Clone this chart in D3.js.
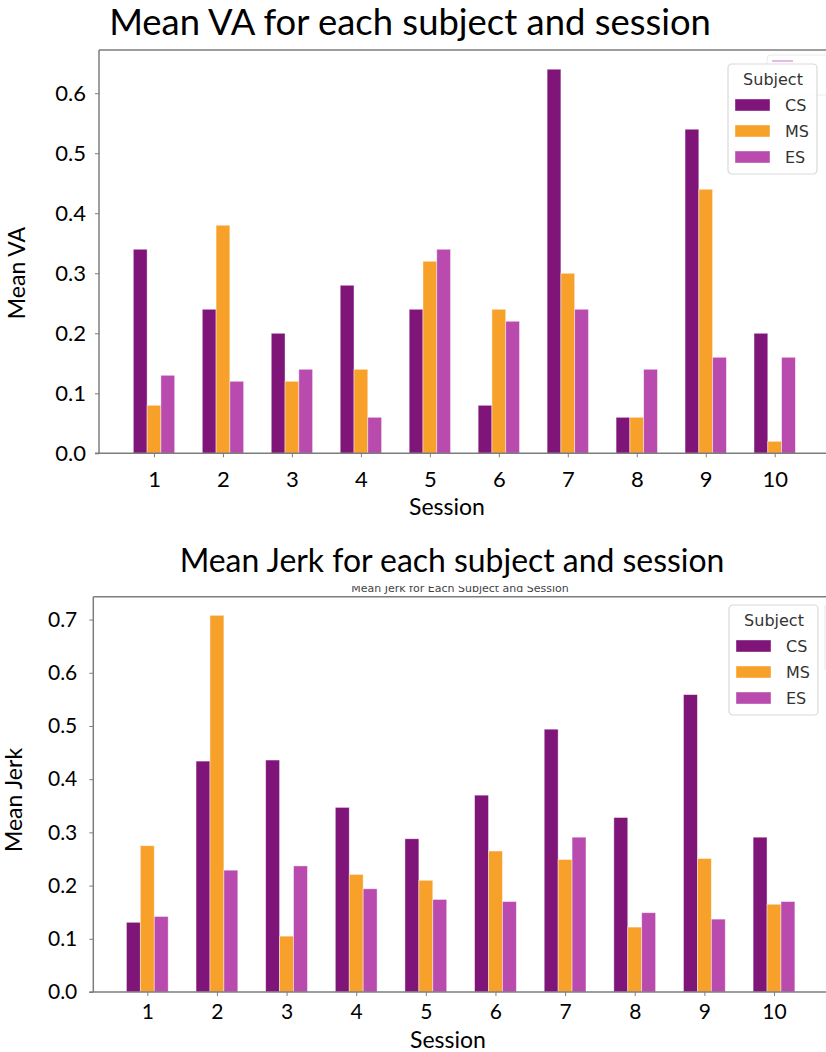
<!DOCTYPE html>
<html>
<head>
<meta charset="utf-8">
<script src="https://cdn.jsdelivr.net/npm/d3@7/dist/d3.min.js"></script>
<style>
  html, body { margin: 0; padding: 0; background: #fff; }
  svg { display: block; }
</style>
</head>
<body>
<svg id="chart" width="826" height="1052"></svg>
<script>
// ---------- DATA ----------
const sessions = ["1", "2", "3", "4", "5", "6", "7", "8", "9", "10"];
const subjects = ["CS", "MS", "ES"];

const vaCS = [0.34, 0.24, 0.20, 0.28, 0.24, 0.08, 0.64, 0.06, 0.54, 0.20];
const vaMS = [0.08, 0.38, 0.12, 0.14, 0.32, 0.24, 0.30, 0.06, 0.44, 0.02];
const vaES = [0.13, 0.12, 0.14, 0.06, 0.34, 0.22, 0.24, 0.14, 0.16, 0.16];

const jerkCS = [0.131, 0.434, 0.436, 0.347, 0.288, 0.370, 0.494, 0.328, 0.559, 0.291];
const jerkMS = [0.275, 0.708, 0.105, 0.221, 0.210, 0.265, 0.249, 0.122, 0.251, 0.165];
const jerkES = [0.142, 0.229, 0.237, 0.194, 0.174, 0.170, 0.291, 0.149, 0.137, 0.170];

const vaTicks = [0.0, 0.1, 0.2, 0.3, 0.4, 0.5, 0.6];
const jerkTicks = [0.0, 0.1, 0.2, 0.3, 0.4, 0.5, 0.6, 0.7];

const titleVA = "Mean VA for each subject and session";
const titleJerk = "Mean Jerk for each subject and session";
const subtitleJerk = "Mean Jerk for Each Subject and Session";
const yLabelVA = "Mean VA";
const yLabelJerk = "Mean Jerk";
const xLabel = "Session";
const legendTitle = "Subject";

const colors = { CS: "#7f1479", MS: "#f7a12b", ES: "#b84bad" };

// ---------- DRAWING ----------
const svg = d3.select("#chart");
const officeFont = "Lato, 'Open Sans', sans-serif";
const mplFont = "'DejaVu Sans', sans-serif";
const spineColor = "#7d7d7d";

function fitFont(sel, targetWidth, startSize) {
  sel.attr("font-size", startSize);
  const w = sel.node().getComputedTextLength();
  sel.attr("font-size", startSize * targetWidth / w);
}

function drawChart(cfg) {
  const g = svg.append("g");
  const rows = sessions.map((s, i) => ({
    session: s,
    values: subjects.map(sub => ({ sub, v: cfg.series[sub][i] }))
  }));

  const x = d3.scalePoint().domain(sessions).range([cfg.xFirst, cfg.xLast]);
  const step = x.step();
  const xInner = d3.scaleBand().domain(subjects).range([-0.3 * step, 0.3 * step]).padding(0);
  const y = d3.scaleLinear().domain([0, cfg.yMax]).range([cfg.bottom, cfg.top]);

  // title
  const t = g.append("text")
    .attr("x", cfg.titleX).attr("y", cfg.titleY)
    .attr("text-anchor", "middle")
    .attr("font-family", officeFont)
    .attr("fill", "#000")
    .text(cfg.title);
  fitFont(t, cfg.titleWidth, 30);

  // bars
  const groups = g.selectAll("g.grp").data(rows).join("g")
    .attr("class", "grp")
    .attr("transform", d => `translate(${x(d.session)},0)`);
  groups.selectAll("rect").data(d => d.values).join("rect")
    .attr("x", d => xInner(d.sub))
    .attr("width", xInner.bandwidth())
    .attr("y", d => y(d.v))
    .attr("height", d => y(0) - y(d.v))
    .attr("fill", d => colors[d.sub])
    .attr("stroke", "#ffffff")
    .attr("stroke-opacity", 0.55)
    .attr("stroke-width", 0.8);

  // top spine
  g.append("line").attr("x1", cfg.left).attr("x2", 830).attr("y1", cfg.top).attr("y2", cfg.top)
    .attr("stroke", spineColor).attr("stroke-width", 1.5);

  // y axis
  const yAxis = d3.axisLeft(y).tickValues(cfg.yTicks).tickFormat(d3.format(".1f"))
    .tickSize(4).tickPadding(cfg.yPad);
  const ya = g.append("g").attr("transform", `translate(${cfg.left},0)`).call(yAxis);
  ya.select(".domain").attr("d", `M0,${cfg.top}V${cfg.bottom}`).attr("stroke", spineColor).attr("stroke-width", 1.5);
  ya.selectAll(".tick line").attr("stroke", spineColor).attr("stroke-width", 1);
  ya.selectAll(".tick text").attr("font-family", officeFont).attr("font-size", cfg.tickFont).attr("fill", "#000");

  // x axis
  const xAxis = d3.axisBottom(x).tickSize(4).tickPadding(cfg.xPad);
  const xa = g.append("g").attr("transform", `translate(0,${cfg.bottom})`).call(xAxis);
  xa.select(".domain").attr("d", `M${cfg.left - 4},0H830`).attr("stroke", spineColor).attr("stroke-width", 1.5);
  xa.selectAll(".tick line").attr("stroke", spineColor).attr("stroke-width", 1);
  xa.selectAll(".tick text").attr("font-family", officeFont).attr("font-size", cfg.tickFont).attr("fill", "#000");

  // axis labels
  g.append("text")
    .attr("x", cfg.xLabelX).attr("y", cfg.xLabelY)
    .attr("text-anchor", "middle")
    .attr("font-family", officeFont).attr("font-size", 23).attr("fill", "#000")
    .text(xLabel);
  g.append("text")
    .attr("transform", `translate(${cfg.yLabelX},${cfg.yLabelY}) rotate(-90)`)
    .attr("text-anchor", "middle")
    .attr("font-family", officeFont).attr("font-size", 23).attr("fill", "#000")
    .text(cfg.yLabel);

  // legend
  const lg = g.append("g").attr("transform", `translate(${cfg.legX},${cfg.legY})`);
  lg.append("rect").attr("x", 0).attr("y", 0).attr("width", 89).attr("height", 110)
    .attr("rx", 4).attr("fill", "#fff").attr("fill-opacity", 0.85)
    .attr("stroke", "#d9d9d9").attr("stroke-width", 1.2);
  lg.append("text").attr("x", 45).attr("y", 21).attr("text-anchor", "middle")
    .attr("font-family", mplFont).attr("font-size", 16).attr("fill", "#333")
    .text(legendTitle);
  const items = lg.selectAll("g.item").data(subjects).join("g")
    .attr("class", "item")
    .attr("transform", (d, i) => `translate(0,${41 + i * 26})`);
  items.append("rect").attr("x", 7).attr("y", -6).attr("width", 35).attr("height", 12)
    .attr("fill", d => colors[d]).attr("stroke", "#fff").attr("stroke-opacity", 0.5).attr("stroke-width", 0.8);
  items.append("text").attr("x", 57).attr("y", 6)
    .attr("font-family", mplFont).attr("font-size", 16).attr("fill", "#333")
    .text(d => d);
  return g;
}

// faint ghost legend behind the top legend
svg.append("rect").attr("x", 767).attr("y", 55).attr("width", 70).attr("height", 40)
  .attr("rx", 4).attr("fill", "#fff").attr("stroke", "#eaeaea");
svg.append("line").attr("x1", 772).attr("x2", 793).attr("y1", 61).attr("y2", 61)
  .attr("stroke", "#e8b8e4").attr("stroke-width", 2);

drawChart({
  title: titleVA, titleX: 410, titleY: 35, titleWidth: 602,
  series: { CS: vaCS, MS: vaMS, ES: vaES },
  yTicks: vaTicks, yMax: 0.672, yLabel: yLabelVA,
  left: 99, top: 50, bottom: 453.3,
  xFirst: 154, xLast: 774.7,
  tickFont: 22, yPad: 9, xPad: 14,
  xLabelX: 447, xLabelY: 515, yLabelX: 25, yLabelY: 273,
  legX: 728, legY: 64
});

// small subtitle (partly hidden) under the bottom title
svg.append("clipPath").attr("id", "subclip").append("rect")
  .attr("x", 0).attr("y", 586).attr("width", 826).attr("height", 20);
svg.append("text").attr("x", 460).attr("y", 592).attr("text-anchor", "middle")
  .attr("clip-path", "url(#subclip)")
  .attr("font-family", mplFont).attr("font-size", 11).attr("fill", "#444")
  .text(subtitleJerk);

drawChart({
  title: titleJerk, titleX: 452, titleY: 572, titleWidth: 545,
  series: { CS: jerkCS, MS: jerkMS, ES: jerkES },
  yTicks: jerkTicks, yMax: 0.743, yLabel: yLabelJerk,
  left: 93.3, top: 596.7, bottom: 992,
  xFirst: 147.3, xLast: 774,
  tickFont: 21, yPad: 12, xPad: 8,
  xLabelX: 448, xLabelY: 1048, yLabelX: 22, yLabelY: 800,
  legX: 729, legY: 605
});

// faint vertical line at right edge of bottom legend area
svg.append("line").attr("x1", 825).attr("x2", 825).attr("y1", 605).attr("y2", 670)
  .attr("stroke", "#e6e6e6").attr("stroke-width", 1);
</script>
</body>
</html>
